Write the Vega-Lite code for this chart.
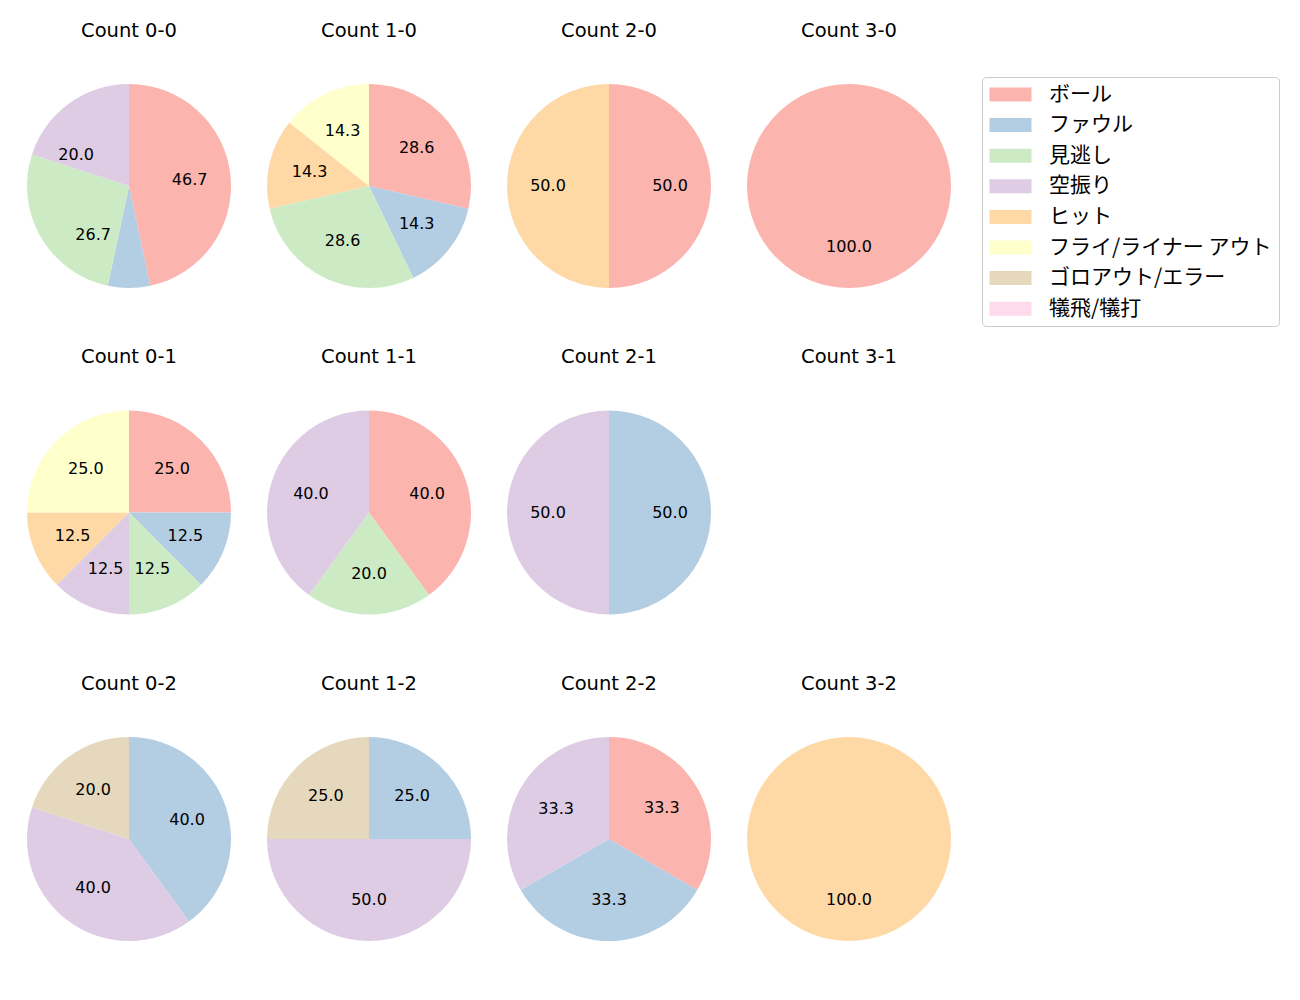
{
  "$schema": "https://vega.github.io/schema/vega-lite/v6.json",
  "padding": {"left": 24, "top": 20, "right": 5, "bottom": 5},
  "config": {
    "font": "DejaVu Sans",
    "view": {"stroke": null}
  },
  "data": {
    "values": [
      {"count": "Count 0-0", "k": 1, "type": "ボール", "pct": 46.667},
      {"count": "Count 0-0", "k": 2, "type": "ファウル", "pct": 6.667},
      {"count": "Count 0-0", "k": 3, "type": "見逃し", "pct": 26.667},
      {"count": "Count 0-0", "k": 4, "type": "空振り", "pct": 20.0},
      {"count": "Count 1-0", "k": 1, "type": "ボール", "pct": 28.571},
      {"count": "Count 1-0", "k": 2, "type": "ファウル", "pct": 14.286},
      {"count": "Count 1-0", "k": 3, "type": "見逃し", "pct": 28.571},
      {"count": "Count 1-0", "k": 5, "type": "ヒット", "pct": 14.286},
      {"count": "Count 1-0", "k": 6, "type": "フライ/ライナー アウト", "pct": 14.286},
      {"count": "Count 2-0", "k": 1, "type": "ボール", "pct": 50.0},
      {"count": "Count 2-0", "k": 5, "type": "ヒット", "pct": 50.0},
      {"count": "Count 3-0", "k": 1, "type": "ボール", "pct": 100.0},
      {"count": "Count 0-1", "k": 1, "type": "ボール", "pct": 25.0},
      {"count": "Count 0-1", "k": 2, "type": "ファウル", "pct": 12.5},
      {"count": "Count 0-1", "k": 3, "type": "見逃し", "pct": 12.5},
      {"count": "Count 0-1", "k": 4, "type": "空振り", "pct": 12.5},
      {"count": "Count 0-1", "k": 5, "type": "ヒット", "pct": 12.5},
      {"count": "Count 0-1", "k": 6, "type": "フライ/ライナー アウト", "pct": 25.0},
      {"count": "Count 1-1", "k": 1, "type": "ボール", "pct": 40.0},
      {"count": "Count 1-1", "k": 3, "type": "見逃し", "pct": 20.0},
      {"count": "Count 1-1", "k": 4, "type": "空振り", "pct": 40.0},
      {"count": "Count 2-1", "k": 2, "type": "ファウル", "pct": 50.0},
      {"count": "Count 2-1", "k": 4, "type": "空振り", "pct": 50.0},
      {"count": "Count 3-1", "k": 1, "type": "ボール", "pct": 0},
      {"count": "Count 0-2", "k": 2, "type": "ファウル", "pct": 40.0},
      {"count": "Count 0-2", "k": 4, "type": "空振り", "pct": 40.0},
      {"count": "Count 0-2", "k": 7, "type": "ゴロアウト/エラー", "pct": 20.0},
      {"count": "Count 1-2", "k": 2, "type": "ファウル", "pct": 25.0},
      {"count": "Count 1-2", "k": 4, "type": "空振り", "pct": 50.0},
      {"count": "Count 1-2", "k": 7, "type": "ゴロアウト/エラー", "pct": 25.0},
      {"count": "Count 2-2", "k": 1, "type": "ボール", "pct": 33.333},
      {"count": "Count 2-2", "k": 2, "type": "ファウル", "pct": 33.333},
      {"count": "Count 2-2", "k": 4, "type": "空振り", "pct": 33.334},
      {"count": "Count 3-2", "k": 5, "type": "ヒット", "pct": 100.0}
    ]
  },
  "facet": {
    "field": "count",
    "type": "nominal",
    "sort": ["Count 0-0", "Count 1-0", "Count 2-0", "Count 3-0", "Count 0-1", "Count 1-1", "Count 2-1", "Count 3-1", "Count 0-2", "Count 1-2", "Count 2-2", "Count 3-2"],
    "header": {"title": null, "labelFontSize": 19.5, "labelFont": "DejaVu Sans", "labelColor": "#000", "labelPadding": 35}
  },
  "columns": 4,
  "spacing": {"column": 30, "row": 50.5},
  "spec": {
    "width": 210,
    "height": 220,
    "encoding": {
      "theta": {"field": "pct", "type": "quantitative", "stack": true, "scale": {"domain": [0, 100]}},
      "order": {"field": "k", "type": "quantitative"}
    },
    "layer": [
      {
        "mark": {"type": "arc", "radius": 102},
        "encoding": {
          "color": {
            "field": "type",
            "type": "nominal",
            "scale": {
              "domain": ["ボール", "ファウル", "見逃し", "空振り", "ヒット", "フライ/ライナー アウト", "ゴロアウト/エラー", "犠飛/犠打"],
              "range": ["#fbb4ae", "#b3cde3", "#ccebc5", "#decbe4", "#fed9a6", "#ffffcc", "#e5d8bd", "#fddaec"]
            },
            "legend": {
              "title": null,
              "orient": "none",
              "legendX": 958,
              "legendY": 1,
              "symbolType": "M-1.43,-1L4.57,-1L4.57,1L-1.43,1Z",
              "symbolSize": 196,
              "symbolStrokeWidth": 0,
              "labelFont": "Noto Sans CJK JP",
              "labelFontSize": 21,
              "labelOffset": 39,
              "labelLimit": 400,
              "rowPadding": 8.6,
              "padding": 7,
              "strokeColor": "#cccccc",
              "cornerRadius": 4,
              "fillColor": "#ffffff",
              "labelColor": "#000"
            }
          }
        }
      },
      {
        "transform": [{"filter": "datum.pct >= 10"}],
        "mark": {"type": "text", "radius": 61, "fontSize": 16, "font": "DejaVu Sans", "color": "#000"},
        "encoding": {
          "text": {"field": "pct", "type": "quantitative", "format": ".1f"}
        }
      }
    ]
  }
}
